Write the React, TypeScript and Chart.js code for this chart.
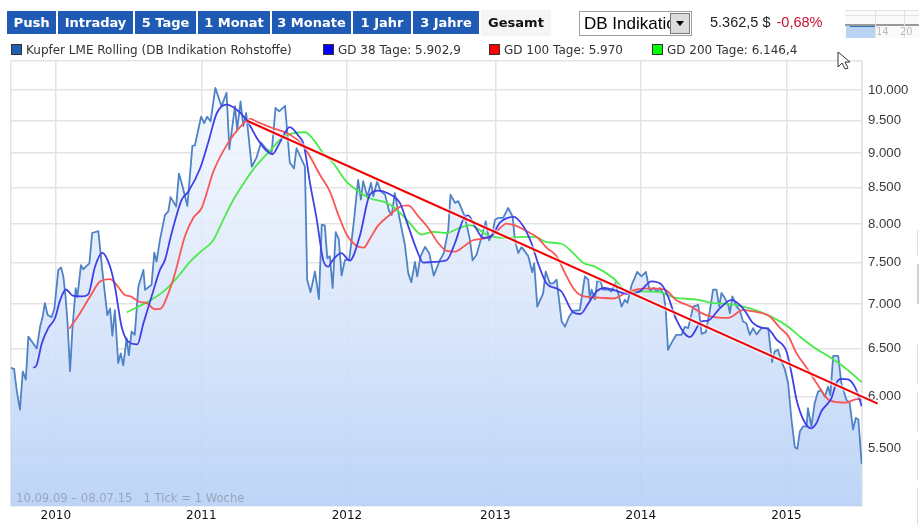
import { useEffect, useRef } from 'react'
import { Chart, registerables } from 'chart.js'

Chart.register(...registerables)

// x axis counts weeks since 10.09.09 ("1 Tick = 1 Woche")
const xTickWeeks = [0, 16, 68, 120, 173, 225, 277, 304]
const xTickLabels = ['', '2010', '2011', '2012', '2013', '2014', '2015', '']
const yTickValues = [5000, 5500, 6000, 6500, 7000, 7500, 8000, 8500, 9000, 9500, 10000, 10495]
const yTickLabels = ['', '5.500', '6.000', '6.500', '7.000', '7.500', '8.000', '8.500', '9.000', '9.500', '10.000', '']

const priceWeeks = [
  0, 1.1, 2, 3.2, 4.2, 5.3, 6.2, 9.2, 10.4, 11.2, 12.1, 13.1, 14.5, 15.5, 16.9, 17.9, 18.7, 19.5, 20.2, 21.1,
  22, 23.1, 23.7, 25, 25.8, 28, 29, 31.2, 32.6, 34.4, 35.4, 36.2, 37.1, 38.3, 39.2, 40.1, 41.3, 42.1, 43.1, 44.2,
  45.5, 47.3, 47.9, 50.2, 51.2, 52, 53.2, 55, 56.2, 57, 59, 60, 61.3, 63, 64.8, 65.7, 67.9, 69, 70.1, 71.3,
  73, 75.2, 77, 78, 80, 80.8, 82, 83, 84, 86, 87.7, 89.3, 91.3, 93.1, 94.5, 95.8, 97.9, 99.6, 101.1, 102,
  105, 105.8, 107, 108.6, 110, 111, 112.1, 113, 113.9, 114.9, 116, 117.1, 118.1, 119.3, 120.8, 122.3, 124, 125, 125.8, 127.3,
  128.6, 129.4, 130.8, 132, 133.6, 135.1, 136, 137.1, 138.9, 140.7, 141.9, 143, 144.3, 145.1, 146.3, 147.9, 149.4, 151, 153.2, 154.6,
  156.2, 157, 158.6, 159.8, 162.1, 163.9, 164.9, 166.3, 167.5, 169.6, 170.8, 171.9, 172.9, 174, 175.8, 177.6, 179.2, 180, 181.2, 182.4,
  184.8, 186.2, 186.9, 188, 190.1, 191, 192.5, 193.7, 194.9, 196.7, 197.9, 199.3, 200.8, 203.2, 205, 206.2, 206.8, 207.4, 208.6, 209.4,
  210.6, 211.5, 213.3, 214.5, 215.9, 216.9, 218.1, 219.3, 220.2, 221.7, 223.7, 225.2, 226.8, 228.2, 229.6, 230.8, 231.8, 233.2, 233.9, 234.7,
  235.9, 237.7, 239.5, 240.7, 241.9, 243.7, 245.5, 246.7, 248.2, 249.6, 250.8, 252, 253, 253.8, 255, 256.2, 256.8, 257.7, 259.2, 260.3,
  261.5, 262.7, 263.9, 265.1, 266.3, 268.1, 270.5, 271.3, 271.9, 272.8, 274, 275.2, 276.4, 277.6, 278.8, 280, 280.9, 281.8, 283, 284.2,
  284.7, 285.9, 287.1, 288.3, 289.5, 290.7, 291.9, 292.7, 293.7, 295.5, 296.6, 298.4, 299.6, 300.8, 301.8, 302.7, 303.9,
]
const priceValues = [
  6293, 6283, 6070, 5870, 6258, 6172, 6631, 6500, 6743, 6836, 7010, 6873, 6847, 6948, 7410, 7440, 7330, 7085, 6780, 6258,
  6743, 7187, 7085, 7470, 7418, 7490, 7880, 7905, 7410, 6873, 6948, 6640, 6930, 6345, 6448, 6320, 6612, 6430, 6687, 6650,
  7208, 7410, 7167, 7228, 7625, 7512, 7790, 8120, 8168, 8365, 8235, 8700, 8510, 8245, 9110, 9120, 9565, 9465, 9565, 9490,
  10035, 9730, 9955, 9060, 9730, 9365, 9810, 9415, 9625, 8800, 8935, 9160, 9060, 9010, 9705, 9650, 9740, 8860, 8775, 9075,
  8800, 7290, 7140, 7390, 7057, 7990, 7980, 7555, 7580, 7190, 7890, 7800, 7340, 7535, 7535, 7970, 8610, 8330, 8590, 8370,
  8565, 8375, 8590, 8450, 8400, 8170, 8120, 8420, 8055, 7730, 7370, 7260, 7510, 7330, 7580, 7700, 7620, 7340, 7530, 7620,
  7925, 8400, 8285, 8310, 8100, 7800, 7530, 7600, 7750, 8035, 7785, 7860, 8055, 8080, 8080, 8215, 8100, 7790, 7620, 7700,
  7580, 7380, 7490, 6970, 7125, 7390, 7245, 7245, 7290, 6800, 6740, 6850, 6920, 6930, 7330, 7290, 7055, 7170, 7055, 7270,
  7270, 7170, 7170, 7150, 7250, 7130, 6970, 7050, 7015, 7225, 7385, 7330, 7385, 7150, 7190, 7150, 7190, 7110, 6930, 6485,
  6560, 6650, 6650, 6740, 6725, 6970, 6990, 6660, 6680, 6915, 7170, 7170, 6970, 7130, 7070, 6990, 6895, 7090, 6970, 6930,
  6800, 6780, 6650, 6725, 6655, 6725, 6725, 6500, 6355, 6470, 6485, 6365, 6280, 6140, 5775, 5515, 5500, 5660, 5710, 5710,
  5885, 5710, 5935, 6050, 6065, 6000, 6100, 6015, 6420, 6420, 6140, 5970, 5935, 5680, 5790, 5775, 5360,
]

const gd38Weeks = [
  8, 9.2, 11, 13.3, 15.7, 17.5, 19.6, 22, 25.2, 27.6, 30, 32.6, 35.4, 37.1, 39.5, 41.9, 45.1, 47.3, 50.2, 53.2,
  55, 57.4, 61, 63.3, 67.5, 70.5, 73.5, 77, 80, 84.2, 87.7, 91.3, 93.4, 96, 99.6, 102.6, 104.6, 106.8, 109.2, 111.5,
  113.3, 115, 118, 121, 124.6, 128.2, 131.2, 134.8, 138.9, 141.9, 144.9, 147.3, 150.8, 155.6, 158.6, 161.5, 163.3, 165.7, 168.7, 171.7,
  174.6, 179.6, 183, 185.9, 188.3, 191.3, 194.9, 196.7, 200.8, 203.4, 206.2, 209.2, 212.1, 215.7, 220.5, 224.6, 228.8, 232.4, 234.7, 237.7,
  242.5, 246.7, 249, 253.2, 257.4, 261.5, 265.1, 268.1, 270.5, 273.4, 277, 278.8, 280.6, 283, 285.7, 287.7, 289.5, 293.1, 294.9, 296.6,
  299, 301.4, 303, 303.9,
]
const gd38Values = [
  6293, 6327, 6555, 6724, 6836, 7040, 7172, 7100, 7090, 7115, 7450, 7625, 7450, 7210, 6743, 6575, 6545, 6780, 7085, 7410,
  7535, 7880, 8330, 8440, 8770, 9170, 9620, 9760, 9700, 9510, 9240, 9035, 8985, 9160, 9400, 9270, 9125, 8565, 8065, 7535,
  7450, 7535, 7620, 7525, 7840, 8400, 8455, 8415, 8285, 7970, 7665, 7500, 7510, 7530, 7750, 8055, 8115, 7970, 7815, 7840,
  8015, 8095, 7970, 7750, 7490, 7245, 7185, 7145, 6905, 6885, 7005, 7150, 7190, 7160, 7120, 7150, 7270, 7230, 7090, 6820,
  6625, 6800, 6810, 6950, 7050, 6950, 6780, 6730, 6715, 6600, 6470, 6240, 5970, 5775, 5690, 5740, 5855, 5985, 6140, 6180,
  6175, 6100, 5985, 5903,
]

const gd100Weeks = [
  20.8, 24.6, 28.2, 31.8, 35.4, 37.7, 40.7, 42.5, 46.1, 48.5, 51.4, 53.5, 56.2, 58.6, 62.1, 65.1, 68.1, 72.3, 77.6, 81.8,
  85.4, 88.3, 93.1, 98.4, 103.8, 106.8, 110.4, 113.9, 116.9, 119.9, 123.4, 126, 128.2, 131.2, 135.3, 138.9, 141.9, 145.5, 149, 152.6,
  155.6, 158.6, 162.1, 165, 169.9, 172.9, 177, 180, 185.4, 188.3, 191.3, 194.9, 197.9, 200.8, 203.8, 210.3, 215.1, 219.3, 224, 228.8,
  233.6, 237.7, 243, 246.7, 250.2, 256.2, 261.5, 265.1, 271, 274.6, 277.6, 280.6, 284.2, 287.7, 292.5, 298.4, 302, 303.9,
]
const gd100Values = [
  6717, 6892, 7085, 7268, 7297, 7228, 7106, 7093, 7024, 7012, 6940, 6948, 7126, 7370, 7835, 8080, 8215, 8730, 9160, 9400,
  9530, 9475, 9390, 9310, 9145, 8950, 8680, 8445, 8125, 7860, 7715, 7690, 7805, 7980, 8120, 8230, 8250, 8100, 7950, 7750,
  7650, 7640, 7715, 7785, 7815, 7880, 8005, 7980, 7880, 7815, 7690, 7580, 7370, 7190, 7100, 7075, 7065, 7125, 7175, 7185,
  7170, 7045, 6970, 6895, 6855, 6840, 6930, 6915, 6860, 6730, 6640, 6450, 6295, 6140, 5960, 5940, 5975, 5970,
]

const gd200Weeks = [
  41.3, 44.9, 49.6, 54.4, 59.2, 64, 67.5, 72.3, 75.8, 79.4, 83.6, 87.1, 92.5, 97.3, 100.2, 105, 108, 111.5, 115.1, 119.3,
  123.4, 128.2, 134.2, 137.7, 141.9, 146.7, 150.8, 155.6, 160.4, 163.9, 169.9, 175.8, 183, 187.1, 191.3, 196.7, 200.8, 204.4, 208.6, 215.1,
  221, 224.6, 231.8, 237.1, 245.5, 250.8, 256.8, 263.9, 270.5, 277, 282.4, 287.7, 291.9, 297.2, 300.8, 303.9,
]
const gd200Values = [
  6905, 6960, 7040, 7146, 7310, 7512, 7630, 7790, 8055, 8325, 8590, 8790, 9035, 9250, 9300, 9320, 9210, 9000, 8855, 8610,
  8465, 8350, 8285, 8195, 8035, 7860, 7895, 7880, 7950, 7985, 7860, 7815, 7830, 7830, 7760, 7740, 7620, 7500, 7450, 7310,
  7130, 7150, 7140, 7075, 7050, 7010, 7000, 6950, 6870, 6755, 6615, 6495, 6420, 6310, 6225, 6146,
]

// hand-drawn trend line, runs past the right edge of the plot
const trendWeeks = [84.3, 309.6]
const trendValues = [9500, 5930]

const toPoints = (xs: number[], ys: number[]) => xs.map((x, i) => ({ x, y: ys[i] }))

const navButtons = [
  { label: 'Push', left: 7, width: 49 },
  { label: 'Intraday', left: 58, width: 75 },
  { label: '5 Tage', left: 135, width: 61 },
  { label: '1 Monat', left: 198, width: 72 },
  { label: '3 Monate', left: 272, width: 79 },
  { label: '1 Jahr', left: 353, width: 58 },
  { label: '3 Jahre', left: 413, width: 66 },
]

const legendItems = [
  { label: 'Kupfer LME Rolling (DB Indikation Rohstoffe)', color: '#1f5fb4', left: 11 },
  { label: 'GD 38 Tage: 5.902,9', color: '#0000ff', left: 323 },
  { label: 'GD 100 Tage: 5.970', color: '#ff0000', left: 489 },
  { label: 'GD 200 Tage: 6.146,4', color: '#00ff00', left: 652 },
]

// bits of the next page column cut off at the right edge
const edgeBoxes = [
  { top: 230, height: 25 },
  { top: 345, height: 40 },
  { top: 392, height: 39 },
  { top: 440, height: 40 },
  { top: 487, height: 38 },
]

const uiFont = '"DejaVu Sans", sans-serif'
const textFont = '"Liberation Sans", sans-serif'

function Toolbar() {
  return (
    <>
      {navButtons.map(b => (
        <div
          key={b.label}
          style={{
            position: 'absolute', left: b.left, top: 11, width: b.width, height: 23, lineHeight: '23px',
            background: '#1f5bb5', color: '#fff', font: `bold 13px/23px ${uiFont}`, textAlign: 'center',
          }}
        >
          {b.label}
        </div>
      ))}
      <div
        style={{
          position: 'absolute', left: 481, top: 10, width: 70, height: 26, background: '#f5f5f5',
          color: '#111', font: `bold 13px/25px ${uiFont}`, textAlign: 'center',
        }}
      >
        Gesamt
      </div>
      <div
        style={{
          position: 'absolute', left: 579, top: 11, width: 111, height: 23, border: '1px solid #a0a0a0',
          font: `17px/24px ${textFont}`, color: '#000', overflow: 'hidden', background: '#fff',
        }}
      >
        <span style={{ position: 'absolute', left: 4, width: 86, overflow: 'hidden', whiteSpace: 'nowrap' }}>DB Indikation</span>
        <div
          style={{
            position: 'absolute', right: 1, top: 1, width: 20, height: 21, background: '#dcdcdc',
            border: '1px solid #777', boxSizing: 'border-box',
          }}
        >
          <div
            style={{
              position: 'absolute', left: 5, top: 7, width: 0, height: 0, borderLeft: '4px solid transparent',
              borderRight: '4px solid transparent', borderTop: '5px solid #000',
            }}
          />
        </div>
      </div>
      <div style={{ position: 'absolute', left: 710, top: 13, whiteSpace: 'nowrap', color: '#222', font: `14.5px/18px ${textFont}` }}>
        5.362,5 $ <span style={{ color: '#c8102e', marginLeft: 2 }}>-0,68%</span>
      </div>
      <div style={{ position: 'absolute', left: 845, top: 10, width: 74, height: 28, background: '#fafafa', overflow: 'hidden' }}>
        <div style={{ position: 'absolute', left: 1, top: 16, width: 29, height: 12, background: '#b9d3f3' }} />
        <div style={{ position: 'absolute', left: 5, top: 16, width: 25, height: 1, background: '#2f6fc0' }} />
        <div style={{ position: 'absolute', left: 0, top: 14, width: 74, height: 2, background: '#999' }} />
        <div style={{ position: 'absolute', left: 0, top: 0, width: 74, height: 1, background: '#e2e2e2' }} />
        <div style={{ position: 'absolute', left: 0, top: 5, width: 74, height: 1, background: '#e2e2e2' }} />
        <div style={{ position: 'absolute', left: 30, top: 0, width: 1, height: 28, background: '#e2e2e2' }} />
        <div style={{ position: 'absolute', left: 59, top: 0, width: 1, height: 28, background: '#e2e2e2' }} />
        <div style={{ position: 'absolute', left: 31, top: 17, font: `10px/10px ${uiFont}`, color: '#bbb' }}>14</div>
        <div style={{ position: 'absolute', left: 55, top: 17, font: `10px/10px ${uiFont}`, color: '#bbb' }}>20</div>
      </div>
      {legendItems.map(l => (
        <div key={l.label} style={{ position: 'absolute', left: l.left, top: 43, height: 14, whiteSpace: 'nowrap' }}>
          <div
            style={{
              position: 'absolute', left: 0, top: 1, width: 9, height: 9, background: l.color, border: '1px solid #333',
            }}
          />
          <span style={{ position: 'absolute', left: 15, top: 0, color: '#333', font: `12px/14px ${uiFont}` }}>{l.label}</span>
        </div>
      ))}
      <div
        style={{
          position: 'absolute', left: 16, top: 491, color: 'rgba(120,125,135,.55)', whiteSpace: 'nowrap',
          font: `11.6px/14px ${uiFont}`,
        }}
      >
        10.09.09 – 08.07.15&nbsp;&nbsp;&nbsp;1 Tick = 1 Woche
      </div>
      <svg style={{ position: 'absolute', left: 836, top: 50 }} width="16" height="22">
        <path d="M2 2 L2 17 L6 13 L9 19 L12 18 L9 12 L14 12 Z" fill="#fff" stroke="#333" strokeWidth="1" />
      </svg>
      {edgeBoxes.map(b => (
        <div key={b.top} style={{ position: 'absolute', left: 917, top: b.top, width: 2, height: b.height, borderLeft: '1px solid #ddd' }} />
      ))}
      <div style={{ position: 'absolute', left: 917, top: 264, width: 2, height: 40, background: '#d0d0d0' }} />
    </>
  )
}

export default function App() {
  const canvasRef = useRef<HTMLCanvasElement>(null)

  useEffect(() => {
    if (!canvasRef.current) return

    const chart = new Chart(canvasRef.current, {
      type: 'line',
      data: {
        datasets: [
          {
            label: 'Trend halo',
            data: toPoints(trendWeeks, trendValues),
            borderColor: 'rgba(255,255,255,0.55)',
            borderWidth: 5,
            pointRadius: 0,
            clip: false,
            order: 1,
          },
          {
            label: 'Trend',
            data: toPoints(trendWeeks, trendValues),
            borderColor: '#f00000',
            borderWidth: 2,
            pointRadius: 0,
            clip: false,
            order: 0,
          },
          {
            label: 'GD 38 Tage',
            data: toPoints(gd38Weeks, gd38Values),
            borderColor: '#4040e8',
            borderWidth: 1.8,
            pointRadius: 0,
            cubicInterpolationMode: 'monotone',
            order: 2,
          },
          {
            label: 'GD 100 Tage',
            data: toPoints(gd100Weeks, gd100Values),
            borderColor: '#f95555',
            borderWidth: 1.8,
            pointRadius: 0,
            cubicInterpolationMode: 'monotone',
            order: 3,
          },
          {
            label: 'GD 200 Tage',
            data: toPoints(gd200Weeks, gd200Values),
            borderColor: '#4aea4a',
            borderWidth: 1.8,
            pointRadius: 0,
            cubicInterpolationMode: 'monotone',
            order: 4,
          },
          {
            label: 'Kupfer LME Rolling',
            data: toPoints(priceWeeks, priceValues),
            borderColor: '#4f83c6',
            borderWidth: 1.8,
            borderJoinStyle: 'round',
            pointRadius: 0,
            fill: 'start',
            order: 5,
            backgroundColor: ctx => {
              const area = ctx.chart.chartArea
              if (!area) return 'transparent'
              const g = ctx.chart.ctx.createLinearGradient(0, area.top, 0, area.bottom)
              g.addColorStop(0, 'rgba(248,251,255,0.85)')
              g.addColorStop(0.5, 'rgba(218,230,250,0.85)')
              g.addColorStop(1, 'rgba(183,208,247,0.9)')
              return g
            },
          },
        ],
      },
      options: {
        responsive: false,
        animation: false,
        events: [],
        layout: { padding: { left: 11, top: 61, right: 0, bottom: 0 } },
        plugins: { legend: { display: false }, tooltip: { enabled: false } },
        scales: {
          x: {
            type: 'linear',
            min: 0,
            max: 304,
            afterBuildTicks: axis => {
              axis.ticks = xTickWeeks.map(value => ({ value }))
            },
            afterFit: axis => {
              axis.height = 19
            },
            grid: { color: '#e3e3e3', lineWidth: 1.5, drawTicks: false },
            border: { display: false },
            ticks: {
              autoSkip: false,
              maxRotation: 0,
              padding: 3,
              color: '#111',
              font: { family: 'DejaVu Sans', size: 12 },
              callback: value => xTickLabels[xTickWeeks.indexOf(Number(value))] ?? '',
            },
          },
          y: {
            type: 'logarithmic',
            position: 'right',
            min: 5000,
            max: 10495,
            afterBuildTicks: axis => {
              axis.ticks = yTickValues.map(value => ({ value }))
            },
            afterFit: axis => {
              axis.width = 57
            },
            grid: { color: '#e3e3e3', lineWidth: 1.5, drawTicks: false },
            border: { display: true, color: '#e3e3e3', width: 1.5 },
            ticks: {
              autoSkip: false,
              padding: 6,
              color: '#3a3a3a',
              font: { family: 'Liberation Sans', size: 13.2 },
              callback: value => yTickLabels[yTickValues.indexOf(Number(value))] ?? '',
            },
          },
        },
      },
    })

    return () => {
      chart.destroy()
    }
  }, [])

  return (
    <div style={{ position: 'absolute', left: 0, top: 0, width: 919, height: 525, overflow: 'hidden', background: '#fff' }}>
      <canvas ref={canvasRef} width={919} height={525} style={{ position: 'absolute', left: 0, top: 0 }} />
      <Toolbar />
    </div>
  )
}
